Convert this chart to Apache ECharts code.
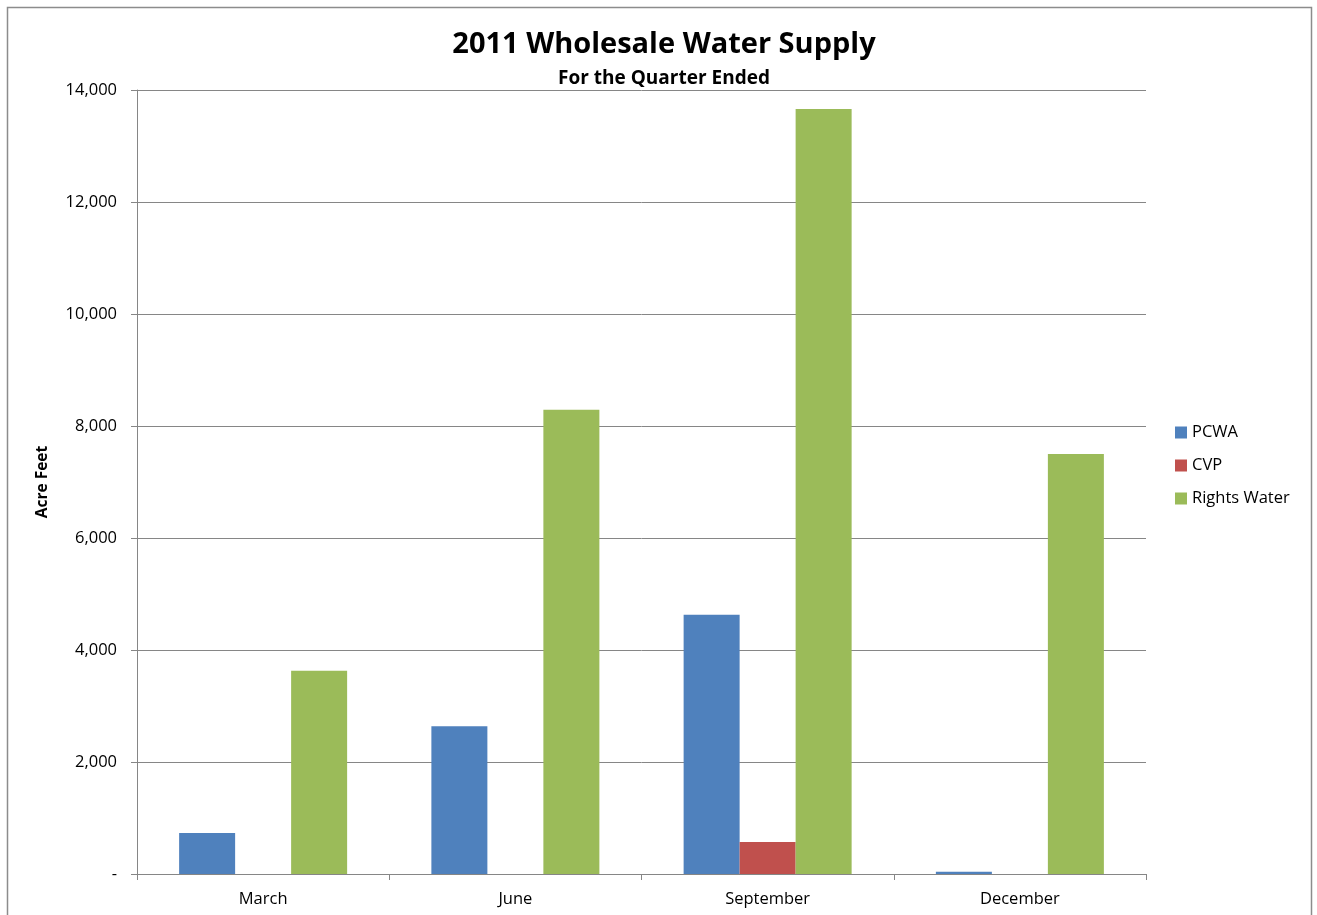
<!DOCTYPE html>
<html><head><meta charset="utf-8">
<script src="https://cdn.jsdelivr.net/npm/echarts@6/dist/echarts.min.js"></script>
<style>html,body{margin:0;padding:0;background:#fff}#c{width:1317px;height:915px}</style>
</head><body><div id="c"></div>
<script>
const categories = ["March", "June", "September", "December"];
const pcwa = [730, 2640, 4630, 40];
const cvp = [0, 0, 570, 0];
const rightsWater = [3630, 8290, 13660, 7500];
const yTicks = [0, 2000, 4000, 6000, 8000, 10000, 12000, 14000];

const chart = echarts.init(document.getElementById('c'));
const font = '"Open Sans", Lato, sans-serif';
chart.setOption({
  animation: false,
  textStyle: {fontFamily: font},
  graphic: [{type: 'rect', shape: {x: 7.5, y: 7.5, width: 1304, height: 920}, style: {fill: 'none', stroke: '#8c8c8c', lineWidth: 1.5}}],
  title: {
    text: '2011 Wholesale Water Supply',
    subtext: 'For the Quarter Ended',
    left: 659, top: 25, textAlign: 'center',
    itemGap: 10,
    textStyle: {fontFamily: font, fontSize: 29, fontWeight: 'bold', color: '#000'},
    subtextStyle: {fontFamily: font, fontSize: 19, fontWeight: 'bold', color: '#000'}
  },
  legend: {
    orient: 'vertical', left: 1170, top: 419, itemGap: 16,
    itemWidth: 12, itemHeight: 12, icon: 'rect',
    textStyle: {fontFamily: font, fontSize: 16.5, color: '#000'},
    data: ['PCWA', 'CVP', 'Rights Water']
  },
  grid: {left: 137, top: 90, width: 1009, height: 784, containLabel: false},
  xAxis: {
    type: 'category', data: categories,
    axisLine: {lineStyle: {color: '#868686'}},
    axisTick: {show: true, length: 6, lineStyle: {color: '#868686'}},
    axisLabel: {fontFamily: font, fontSize: 16.5, color: '#000', margin: 17}
  },
  yAxis: {
    type: 'value', min: 0, max: 14000, interval: 2000,
    name: 'Acre Feet', nameLocation: 'middle', nameGap: 86, nameRotate: 90,
    nameTextStyle: {fontFamily: font, fontSize: 15.5, fontWeight: 'bold', color: '#000'},
    axisLine: {show: true, lineStyle: {color: '#868686'}},
    axisTick: {show: true, inside: false, length: 6, lineStyle: {color: '#868686'}},
    splitLine: {lineStyle: {color: '#868686'}},
    axisLabel: {fontFamily: font, fontSize: 16.5, color: '#000', margin: 20,
      formatter: v => yTicks.includes(v) ? (v === 0 ? '-' : v.toLocaleString('en-US')) : ''}
  },
  series: [
    {name: 'PCWA', type: 'bar', data: pcwa, barWidth: 56, barGap: '0%', itemStyle: {color: '#4f81bd'}},
    {name: 'CVP', type: 'bar', data: cvp, barWidth: 56, barGap: '0%', itemStyle: {color: '#c0504d'}},
    {name: 'Rights Water', type: 'bar', data: rightsWater, barWidth: 56, barGap: '0%', itemStyle: {color: '#9bbb59'}}
  ]
});
</script></body></html>
